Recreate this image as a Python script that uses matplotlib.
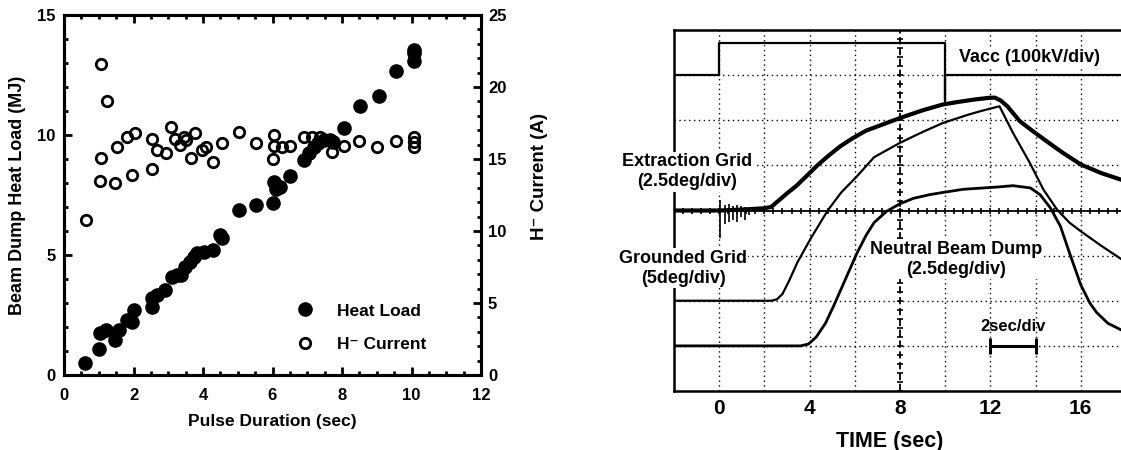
import numpy as np
import matplotlib
matplotlib.use('Agg')
import matplotlib.pyplot as plt
from matplotlib.lines import Line2D

plt.rcParams['font.family'] = ['Liberation Sans', 'DejaVu Sans']
plt.rcParams['font.weight'] = 'bold'

# --- left panel: beam dump heat load and H- current vs pulse duration ---
heat_t = [0.6, 1.0, 1.05, 1.2, 1.47, 1.57, 1.8, 1.95, 2.0, 2.53, 2.53, 2.67, 2.91,
          3.1, 3.24, 3.38, 3.47, 3.63, 3.73, 3.82, 4.02, 4.3, 4.5, 4.55, 5.05, 5.53,
          6.01, 6.03, 6.1, 6.22, 6.51, 6.9, 7.04, 7.18, 7.32, 7.47, 7.66, 7.75, 8.05,
          8.53, 9.06, 9.54, 10.07, 10.07, 10.07]
heat_mj = [0.5, 1.1, 1.74, 1.88, 1.46, 1.88, 2.29, 2.2, 2.7, 2.85, 3.19, 3.33, 3.54,
           4.1, 4.18, 4.18, 4.51, 4.72, 4.93, 5.07, 5.14, 5.2, 5.83, 5.7, 6.88, 7.08,
           7.18, 8.06, 7.75, 7.85, 8.3, 8.96, 9.24, 9.5, 9.65, 9.79, 9.79, 9.72, 10.28,
           11.2, 11.64, 12.68, 13.1, 13.4, 13.55]

cur_t = [0.63, 1.07, 1.23, 1.07, 1.04, 1.47, 1.53, 1.8, 1.95, 2.03, 2.53, 2.53, 2.67,
         2.93, 3.08, 3.2, 3.35, 3.5, 3.46, 3.66, 3.77, 3.97, 4.1, 4.3, 4.55, 5.05,
         5.53, 6.03, 6.03, 6.01, 6.26, 6.51, 6.9, 7.13, 7.37, 7.72, 8.05, 8.48, 9.0,
         9.54, 10.07, 10.07, 10.07]
cur_a = [10.76, 21.6, 19.0, 15.1, 13.5, 13.35, 15.85, 16.55, 13.9, 16.8, 14.3, 16.4,
         15.6, 15.4, 17.25, 16.4, 16.0, 16.3, 16.55, 15.05, 16.8, 15.6, 15.85, 14.8,
         16.1, 16.9, 16.1, 16.7, 15.9, 14.98, 15.85, 15.9, 16.55, 16.55, 16.55, 15.5,
         15.9, 16.25, 15.85, 16.25, 16.55, 15.85, 16.2]

# --- right panel: oscilloscope traces (time in sec, level in divisions) ---
vacc_t = [-2, 0, 0, 10, 10, 10, 18]
vacc_v = [3.0, 3.0, 3.71, 3.71, 2.42, 3.0, 3.0]

ext_t = [-2, 0, 1.0, 2.0, 2.3, 2.7, 3.0, 3.4, 3.9, 4.3, 4.8, 5.35, 5.9, 6.5, 7.2, 8.0,
         9.0, 9.9, 10.5, 11.3, 12.0, 12.2, 12.45, 12.75, 13.3, 13.9, 14.5, 15.2, 16.0,
         16.9, 17.8, 18.0]
ext_v = [0.0, 0.0, 0.02, 0.05, 0.08, 0.25, 0.38, 0.54, 0.78, 0.98, 1.2, 1.42, 1.6, 1.77,
         1.9, 2.05, 2.22, 2.35, 2.4, 2.46, 2.5, 2.5, 2.44, 2.31, 1.98, 1.75, 1.53, 1.28,
         1.02, 0.83, 0.68, 0.65]

gnd_t = [-2, 0, 2.3, 2.55, 2.8, 3.1, 3.45, 4.05, 4.8, 5.4, 6.1, 6.85, 8.0, 9.0, 9.9,
         11.0, 11.55, 12.4, 13.0, 13.75, 14.35, 14.95, 15.5, 16.0, 16.9, 17.8, 18.0]
gnd_v = [-2.0, -2.0, -2.0, -1.97, -1.85, -1.55, -1.16, -0.62, 0.0, 0.4, 0.76, 1.18, 1.5,
         1.74, 1.94, 2.12, 2.2, 2.31, 1.72, 1.05, 0.46, 0.02, -0.27, -0.46, -0.78, -1.08,
         -1.12]

nbd_t = [-2, 0, 3.6, 3.95, 4.3, 4.7, 5.06, 5.65, 6.1, 6.5, 6.85, 7.4, 8.0, 8.6, 9.3,
         9.9, 10.8, 12.3, 13.0, 13.77, 14.2, 14.65, 15.1, 15.5, 16.0, 16.4, 16.7, 17.2,
         17.8, 18.0]
nbd_v = [-3.0, -3.0, -3.0, -2.96, -2.8, -2.5, -2.12, -1.45, -0.94, -0.55, -0.27, -0.02,
         0.15, 0.27, 0.35, 0.4, 0.47, 0.52, 0.55, 0.5, 0.35, 0.06, -0.35, -0.94, -1.65,
         -2.05, -2.26, -2.5, -2.65, -2.7]

# start-up noise spikes on the extraction grid trace
spike_t = [0.04, 0.25, 0.45, 0.6, 0.8, 0.95, 1.15, 1.3]
spike_lo = [-0.6, -0.3, -0.25, -0.2, -0.25, -0.15, -0.2, -0.1]
spike_hi = [0.24, 0.12, 0.15, 0.1, 0.12, 0.1, 0.08, 0.06]

fig = plt.figure(figsize=(11.21, 4.5), dpi=100)

# ---------------- left panel ----------------
ax1 = fig.add_axes([64 / 1121, 75 / 450, 417 / 1121, 360 / 450])
ax2 = ax1.twinx()
ax1.plot(heat_t, heat_mj, 'o', color='black', ms=9.5, zorder=3)
ax2.plot(cur_t, cur_a, 'o', mfc='none', mec='black', mew=2.0, ms=7.5)
ax1.set_xlim(0, 12)
ax1.set_ylim(0, 15)
ax2.set_ylim(0, 25)
ax1.set_xticks(np.arange(0, 13, 2))
ax1.set_xticks(np.arange(0, 12.01, 0.5), minor=True)
ax1.set_yticks([0, 5, 10, 15])
ax1.set_yticks(np.arange(0, 15.01, 1), minor=True)
ax2.set_yticks([0, 5, 10, 15, 20, 25])
ax2.set_yticks(np.arange(0, 25.01, 1), minor=True)
ax1.tick_params(which='both', direction='in', top=True, width=2, labelsize=12)
ax1.tick_params(axis='x', pad=9)
ax1.tick_params(axis='y', pad=6)
ax1.tick_params(which='major', length=6)
ax1.tick_params(which='minor', length=3)
ax2.tick_params(which='both', direction='in', width=2, labelsize=12, pad=5)
ax2.tick_params(which='major', length=6)
ax2.tick_params(which='minor', length=3)
for a in (ax1, ax2):
    for sp in a.spines.values():
        sp.set_linewidth(2.2)
ax1.set_xlabel('Pulse Duration (sec)', fontsize=12.5, fontweight='bold', labelpad=8)
ax1.set_ylabel('Beam Dump Heat Load (MJ)', fontsize=13, fontweight='bold')
ax1.yaxis.set_label_coords(-0.091, 0.5)
ax2.set_ylabel('H\u207b Current (A)', fontsize=13.5, fontweight='bold', rotation=90)
ax2.yaxis.set_label_coords(1.12, 0.55)

h1 = Line2D([], [], ls='none', marker='o', color='black', ms=9.5)
h2 = Line2D([], [], ls='none', marker='o', mfc='none', mec='black', mew=2.0, ms=7.5)
ax1.legend([h1, h2], ['Heat Load', 'H\u207b Current'], loc='lower left',
           bbox_to_anchor=(0.537, 0.04), frameon=False, handlelength=1.0,
           handletextpad=1.3, labelspacing=1.05, borderpad=0,
           prop={'size': 12.5, 'weight': 'bold'})

# ---------------- right panel ----------------
ax3 = fig.add_axes([674 / 1121, 59 / 450, 452 / 1121, 361 / 450])
ax3.set_xlim(-2, 18)
ax3.set_ylim(-4, 4)
for gx in np.arange(0, 18.01, 2):
    if gx != 8:
        ax3.axvline(gx, color='black', lw=1.0, ls=(0, (1, 2.5)), zorder=1)
for gy in [-3, -2, -1, 1, 2, 3]:
    ax3.axhline(gy, color='black', lw=1.0, ls=(0, (1, 2.5)), zorder=1)
ax3.axhline(0, color='black', lw=1.3, zorder=1)
ax3.axvline(8, color='black', lw=1.3, ls=(0, (4, 2)), zorder=1)
# graticule ticks on the centre lines
ax3.plot(np.arange(-2, 18.01, 0.4), np.zeros(51), '|', color='black', ms=5, mew=1.2)
ax3.plot(np.full(41, 8.0), np.arange(-4, 4.01, 0.2), '_', color='black', ms=5, mew=1.2)

ax3.plot(vacc_t, vacc_v, color='black', lw=1.6)
ax3.plot(ext_t, ext_v, color='black', lw=3.0)
ax3.plot(gnd_t, gnd_v, color='black', lw=1.6)
ax3.plot(nbd_t, nbd_v, color='black', lw=2.0)
ax3.vlines(spike_t, spike_lo, spike_hi, color='black', lw=1.2)

ax3.plot([12, 14], [-3, -3], color='black', lw=2.2, marker='|', ms=12, mew=2.2)
ax3.text(13, -2.56, '2sec/div', ha='center', va='center', fontsize=12,
         fontweight='bold')

lbl = dict(ha='center', va='center', fontsize=13, fontweight='bold', linespacing=1.25,
           bbox=dict(facecolor='white', edgecolor='none', pad=1), zorder=5)
ax3.text(13.75, 3.4, 'Vacc (100kV/div)', **lbl)
t1 = ax3.text(-1.42, 0.86, 'Extraction Grid\n(2.5deg/div)', **lbl)
t2 = ax3.text(-1.6, -1.28, 'Grounded Grid\n(5deg/div)', **lbl)
ax3.text(10.5, -1.08, 'Neutral Beam Dump\n(2.5deg/div)', **lbl)
for t in (t1, t2):
    t.set_clip_on(False)

ax3.set_xticks([0, 4, 8, 12, 16])
ax3.set_yticks([])
ax3.tick_params(axis='x', length=0, labelsize=15, pad=6)
ax3.set_xlabel('TIME (sec)', fontsize=15.5, fontweight='bold')
ax3.xaxis.set_label_coords(0.5 - 0.022, -0.11)
for sp in ax3.spines.values():
    sp.set_linewidth(1.8)

fig.savefig('out.png', dpi=100)
